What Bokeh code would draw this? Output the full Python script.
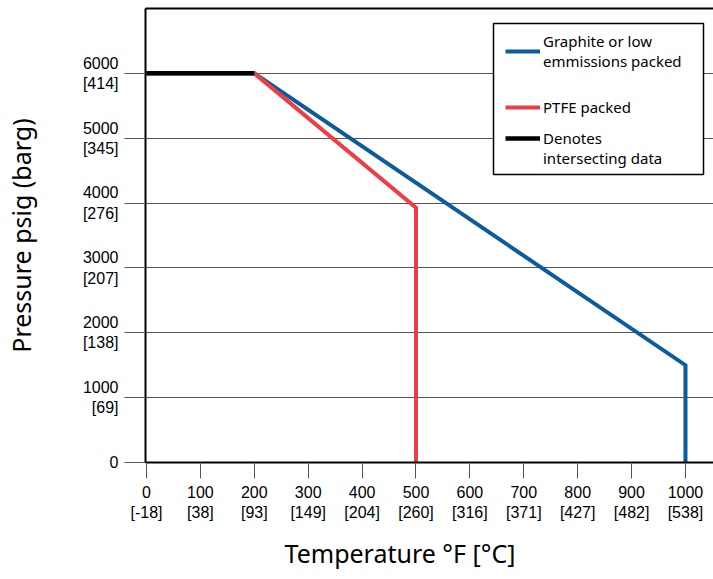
from bokeh.plotting import figure
from bokeh.models import (Range1d, FixedTicker, LinearAxis, Legend, LegendItem, Title,
                          BoxAnnotation)
from bokeh.embed import file_html
from bokeh.resources import INLINE

# ---- data ----
x_ticks_f = [0, 100, 200, 300, 400, 500, 600, 700, 800, 900, 1000]
x_ticks_c = ["-18", "38", "93", "149", "204", "260", "316", "371", "427", "482", "538"]
y_ticks_psig = [0, 1000, 2000, 3000, 4000, 5000, 6000]
y_ticks_barg = ["", "69", "138", "207", "276", "345", "414"]

graphite_temp = [0, 200, 1000, 1000]
graphite_press = [6000, 6000, 1500, 0]
ptfe_temp = [0, 200, 500, 500]
ptfe_press = [6000, 6000, 3930, 0]
shared_temp = [0, 200]
shared_press = [6000, 6000]

BLUE = "#0b5c9e"
RED = "#ee3d45"
GRID = "#555555"

# ---- layout (pixels) ----
W, H = 713, 579
FRAME_L, FRAME_T, FRAME_B = 145, 8, 462
X0, X1 = -1.86, 1052
Y0, Y1 = 0, 7000

p = figure(width=W, height=H, output_backend="svg", toolbar_location=None,
           x_range=Range1d(X0, X1), y_range=Range1d(Y0, Y1),
           min_border_left=FRAME_L, min_border_top=FRAME_T, min_border_right=0,
           min_border_bottom=H - FRAME_B)
p.outline_line_color = None
p.background_fill_color = "white"
p.xgrid.grid_line_color = None
p.ygrid.ticker = FixedTicker(ticks=y_ticks_psig)
p.ygrid.grid_line_color = GRID
p.ygrid.grid_line_width = 1

# y axis
ya = p.yaxis[0]
ya.ticker = FixedTicker(ticks=y_ticks_psig)
ya.major_label_overrides = {
    t: (str(t) if c == "" else f"{t}\n[{c}]") for t, c in zip(y_ticks_psig, y_ticks_barg)
}
ya.major_tick_out = 21
ya.major_tick_in = 0
ya.major_tick_line_color = GRID
ya.minor_tick_line_color = None
ya.axis_line_color = "black"
ya.axis_line_width = 2
ya.major_label_text_font = "Liberation Sans"
ya.major_label_text_font_size = "16px"
ya.major_label_text_color = "black"
ya.major_label_standoff = 6
ya.axis_label = "Pressure psig (barg)"
ya.axis_label_text_font = "Noto Sans"
ya.axis_label_text_font_size = "25px"
ya.axis_label_text_font_style = "normal"
ya.axis_label_text_color = "black"
ya.axis_label_standoff = 42

# x axis
xa = p.xaxis[0]
xa.ticker = FixedTicker(ticks=x_ticks_f)
xa.major_label_overrides = {t: f"{t}\n[{c}]" for t, c in zip(x_ticks_f, x_ticks_c)}
xa.major_tick_out = 16
xa.major_tick_in = 0
xa.major_tick_line_color = GRID
xa.minor_tick_line_color = None
xa.axis_line_color = "black"
xa.axis_line_width = 2
xa.major_label_text_font = "Liberation Sans"
xa.major_label_text_font_size = "16px"
xa.major_label_text_color = "black"
xa.major_label_standoff = 5

# top border line
top = LinearAxis(ticker=FixedTicker(ticks=[]), major_label_text_font_size="0px",
                 major_tick_line_color=None, minor_tick_line_color=None,
                 axis_line_width=2, axis_line_color="black", major_label_standoff=0)
p.add_layout(top, "above")

# lines
r_blue = p.line(graphite_temp, graphite_press, line_color=BLUE, line_width=4, line_join="miter")
r_red = p.line(ptfe_temp, ptfe_press, line_color=RED, line_width=4, line_join="miter")
r_black = p.line(shared_temp, shared_press, line_color="black", line_width=4.5)
r_none = p.line(shared_temp, shared_press, line_alpha=0)   # text-only legend row

# ---- legend frame (pixel box converted to data space) ----
sx = (W - FRAME_L) / (X1 - X0)
sy = (FRAME_B - FRAME_T) / (Y1 - Y0)
px_x = lambda px: X0 + (px - FRAME_L) / sx
px_y = lambda py: Y0 + (FRAME_B - py) / sy
frame_box = BoxAnnotation(left=px_x(493), right=px_x(703), top=px_y(23), bottom=px_y(174),
                          fill_color="white", fill_alpha=1,
                          line_color="black", line_width=1.5, line_alpha=1)
p.add_layout(frame_box)


def make_legend(items, glyph_left, bottom_px):
    lg = Legend(items=items, location=(glyph_left - FRAME_L, FRAME_B - bottom_px))
    lg.label_text_font = "Noto Sans"
    lg.label_text_font_size = "15px"
    lg.label_text_color = "black"
    lg.glyph_width = 35
    lg.glyph_height = 20
    lg.label_height = 20
    lg.label_standoff = 3
    lg.padding = 0
    lg.spacing = 0
    lg.margin = 0
    lg.border_line_color = None
    lg.background_fill_alpha = 0
    p.add_layout(lg)
    return lg


make_legend([LegendItem(label="Graphite or low\nemmissions packed", renderers=[r_blue])], 505, 71)
make_legend([LegendItem(label="PTFE packed", renderers=[r_red])], 505, 117)
make_legend([LegendItem(label="Denotes", renderers=[r_black]),
             LegendItem(label="intersecting data", renderers=[r_none])], 505, 168)

t = Title(text="Temperature °F [°C]", align="left", offset=139,
          text_font="Noto Sans", text_font_size="25px", text_font_style="normal",
          text_color="black", standoff=20)
p.add_layout(t, "below")

open("out.html", "w").write(file_html(p, INLINE))
